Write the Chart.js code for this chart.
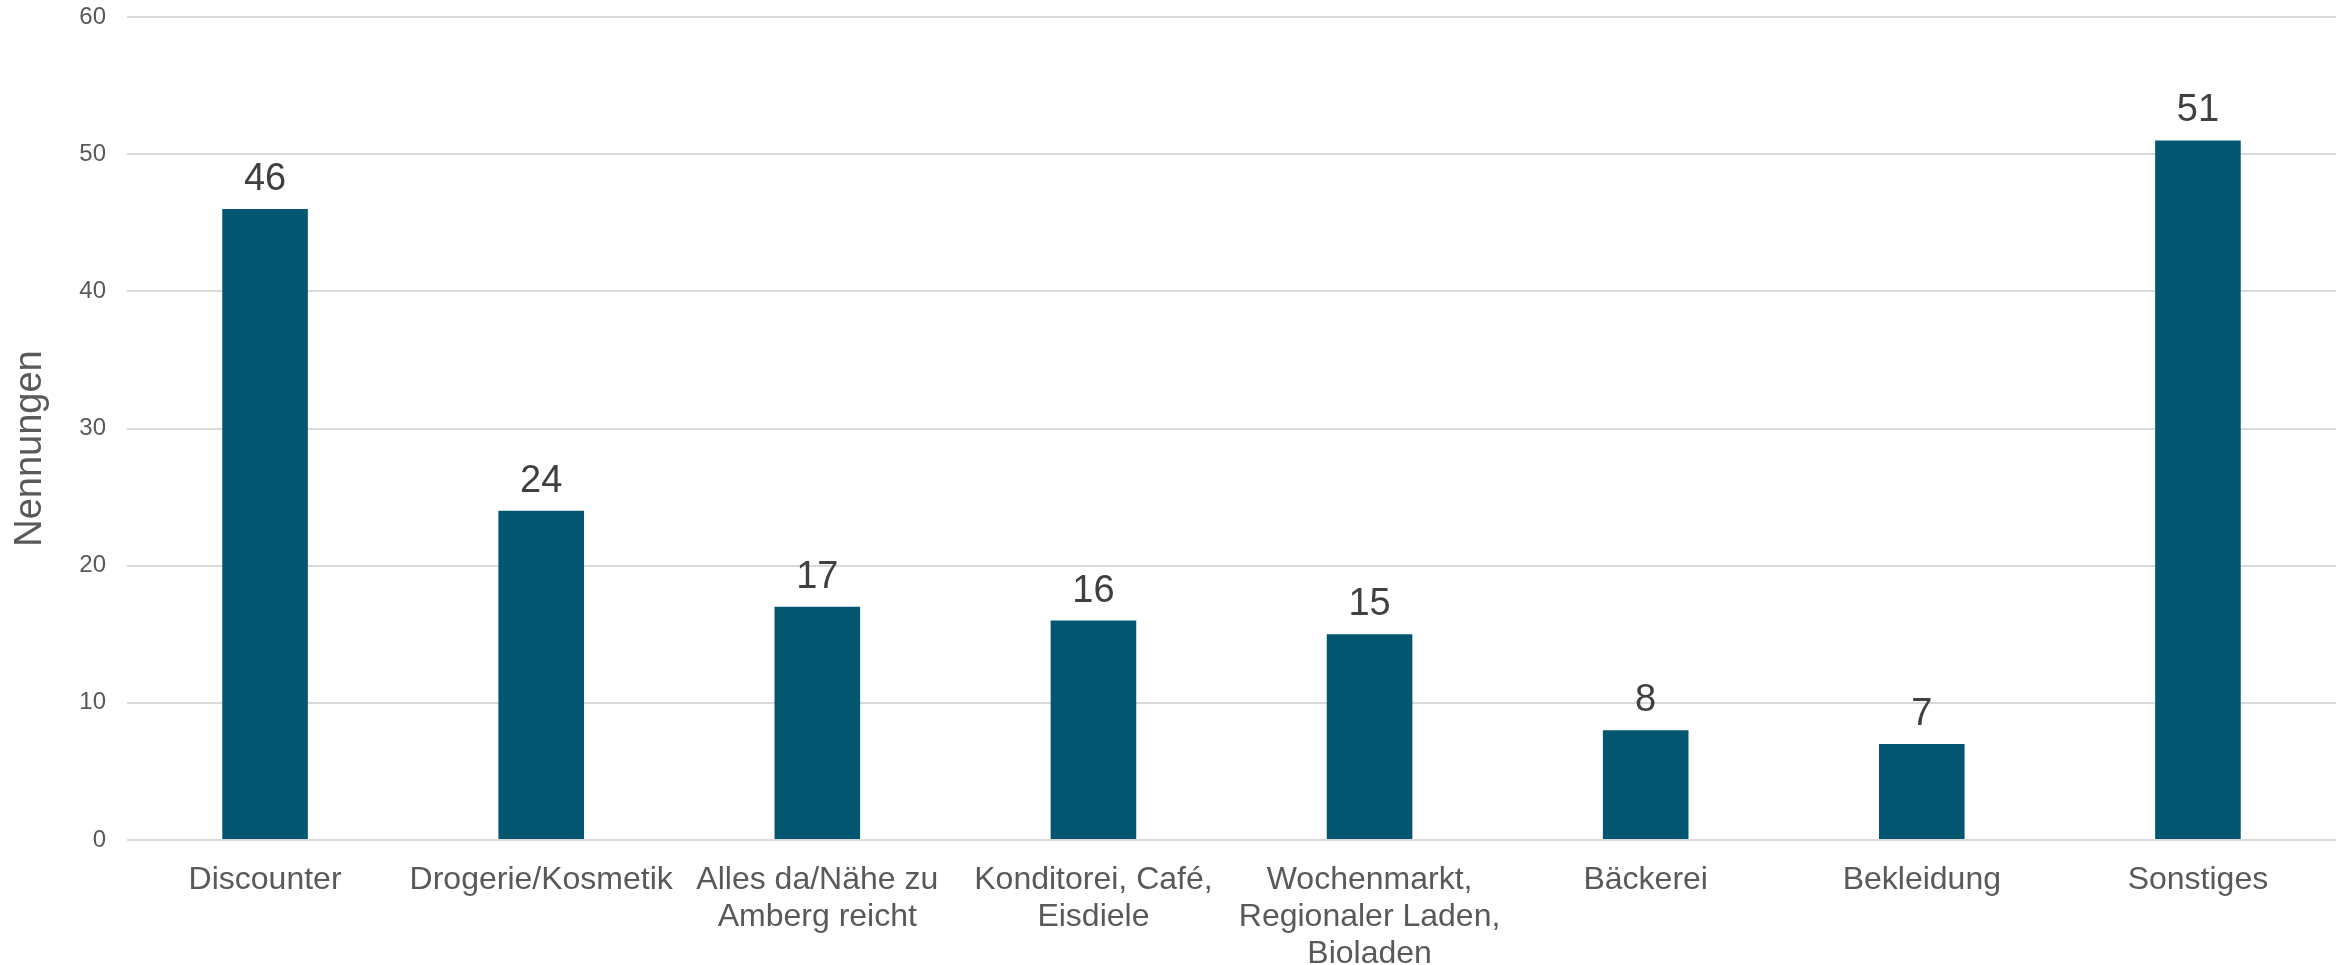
<!DOCTYPE html>
<html>
<head>
<meta charset="utf-8">
<script src="https://cdn.jsdelivr.net/npm/chart.js@4.4.1/dist/chart.umd.min.js"></script>
<style>
html,body{margin:0;padding:0;background:#fff;}
#wrap{width:2342px;height:965px;position:relative;}
</style>
</head>
<body>
<div id="wrap"><canvas id="chart"></canvas></div>
<script>
const kategorien=[
"Discounter",
"Drogerie/Kosmetik",
["Alles da/Nähe zu","Amberg reicht"],
["Konditorei, Café,","Eisdiele"],
["Wochenmarkt,","Regionaler Laden,","Bioladen"],
"Bäckerei",
"Bekleidung",
"Sonstiges"
]
const nennungen=[46,24,17,16,15,8,7,51]
const yTicks=[0,10,20,30,40,50,60]
const achsenTitel="Nennungen"

const FONT="'Liberation Sans', Arial, sans-serif"

// Werte über den Balken + Achsentitel
const werteLabels={
id:"werteLabels",
afterDatasetsDraw(chart){
const ctx=chart.ctx
const meta=chart.getDatasetMeta(0)
ctx.save()
ctx.font="38px "+FONT
ctx.fillStyle="#404040"
ctx.textAlign="center"
ctx.textBaseline="alphabetic"
meta.data.forEach((bar,i)=>{
ctx.fillText(String(nennungen[i]),bar.x,bar.y-19)
})
// y-Achsentitel, etwas unterhalb der Mitte wie im Original
const a=chart.chartArea
ctx.font="38px "+FONT
ctx.fillStyle="#595959"
ctx.translate(31,(a.top+a.bottom)/2+20)
ctx.rotate(-Math.PI/2)
ctx.textBaseline="middle"
ctx.fillText(achsenTitel,0,0)
ctx.restore()
}
}

new Chart(document.getElementById("chart"),{
type:"bar",
data:{
labels:kategorien,
datasets:[{
label:"Nennungen",
data:nennungen,
backgroundColor:"#02566f",
categoryPercentage:1,
barPercentage:0.31
}]
},
options:{
responsive:true,
maintainAspectRatio:false,
animation:false,
layout:{padding:{top:17,right:6,left:0,bottom:0},autoPadding:false},
plugins:{
legend:{display:false},
tooltip:{enabled:false}
},
scales:{
x:{
grid:{display:false},
border:{display:false},
ticks:{
color:"#595959",
font:{family:FONT,size:32,lineHeight:1.15},
padding:14,
maxRotation:0,
autoSkip:false
},
afterFit(axis){axis.height=125;axis.paddingLeft=0;axis.paddingRight=0}
},
y:{
min:0,
max:60,
afterBuildTicks(axis){axis.ticks=yTicks.map(v=>({value:v}))},
grid:{color:"#d9d9d9",lineWidth:2,drawTicks:false},
border:{display:false},
ticks:{
color:"#595959",
font:{family:FONT,size:24},
padding:21
},
afterFit(axis){axis.width=127;axis.paddingTop=0;axis.paddingBottom=0}
}
}
},
plugins:[werteLabels]
})
</script>
</body>
</html>
